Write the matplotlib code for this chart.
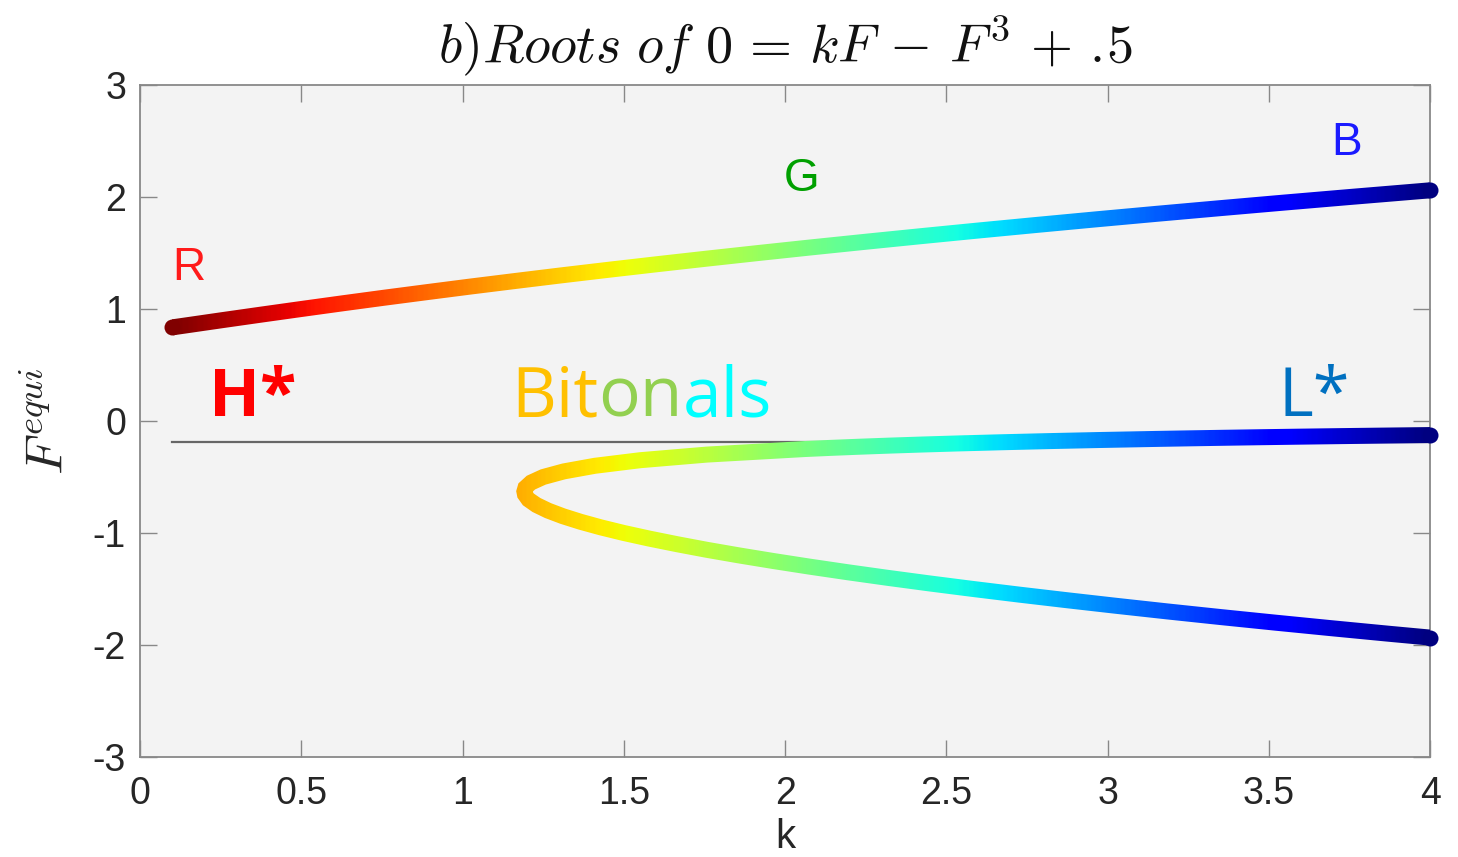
import matplotlib
matplotlib.use("Agg")
import matplotlib.pyplot as plt
import numpy as np
from matplotlib.colors import Normalize
from matplotlib.path import Path

# roots: upper branch
upper_k = [0.10, 0.134, 0.254, 0.376, 0.50, 0.626, 0.755, 0.888, 1.023, 1.163,
           1.305, 1.452, 1.603, 1.758, 1.917, 2.080, 2.248, 2.420, 2.596, 2.777,
           2.962, 3.152, 3.347, 3.546, 3.75, 3.959, 4.00]
upper_F = [0.836, 0.85, 0.90, 0.95, 1.00, 1.05, 1.10, 1.15, 1.20, 1.25,
           1.30, 1.35, 1.40, 1.45, 1.50, 1.55, 1.60, 1.65, 1.70, 1.75,
           1.80, 1.85, 1.90, 1.95, 2.00, 2.05, 2.06]

# lower fold: bottom branch (k=4 -> fold) then middle branch (fold -> k=4)
lower_k = [4.00, 3.873, 3.693, 3.518, 3.348, 3.184, 3.026, 2.873, 2.725, 2.583,
           2.447, 2.317, 2.193, 2.075, 1.963, 1.857, 1.757, 1.665, 1.579, 1.50,
           1.429, 1.366, 1.311, 1.265, 1.229, 1.204, 1.192, 1.191,
           1.193, 1.212, 1.25, 1.314, 1.41, 1.551, 1.757, 2.063, 2.141, 2.227,
           2.321, 2.425, 2.54, 2.668, 2.81, 2.97, 3.151, 3.25, 3.356, 3.469,
           3.591, 3.722, 3.863, 4.00]
lower_F = [-1.934, -1.90, -1.85, -1.80, -1.75, -1.70, -1.65, -1.60, -1.55, -1.50,
           -1.45, -1.40, -1.35, -1.30, -1.25, -1.20, -1.15, -1.10, -1.05, -1.00,
           -0.95, -0.90, -0.85, -0.80, -0.75, -0.70, -0.65, -0.63,
           -0.60, -0.55, -0.50, -0.45, -0.40, -0.35, -0.30, -0.25, -0.24, -0.23,
           -0.22, -0.21, -0.20, -0.19, -0.18, -0.17, -0.16, -0.155, -0.15, -0.145,
           -0.14, -0.135, -0.13, -0.1255]

ref_k = [0.1, 4.0]
ref_F = -0.19

xticks = [0, 0.5, 1, 1.5, 2, 2.5, 3, 3.5, 4]
xticklabels = ['0', '0.5', '1', '1.5', '2', '2.5', '3', '3.5', '4']
yticks = [-3, -2, -1, 0, 1, 2, 3]

plt.rcParams['mathtext.fontset'] = 'cm'
plt.rcParams['axes.unicode_minus'] = False
plt.rcParams['font.family'] = ['Liberation Sans', 'DejaVu Sans']

fig = plt.figure(figsize=(14.58, 8.57), dpi=100)
fig.patch.set_facecolor('white')
ax = fig.add_axes([0.096, 0.1167, 0.885, 0.7841])
ax.set_facecolor('#f3f3f3')
ax.set_xlim(0, 4)
ax.set_ylim(-3, 3)

norm = Normalize(0.1, 4.0)
cmap = plt.get_cmap('jet_r')
LW = 16  # stroke width in pixels


def stroke_outline(ks, fs, width):
    # polygon around the curve, offset by half the width in screen space
    pts = ax.transData.transform(np.column_stack([ks, fs]))
    d = np.gradient(pts, axis=0)
    d /= np.linalg.norm(d, axis=1)[:, None]
    nrm = np.column_stack([-d[:, 1], d[:, 0]]) * width / 2
    poly = np.vstack([pts + nrm, (pts - nrm)[::-1], (pts + nrm)[:1]])
    poly = ax.transData.inverted().transform(poly)
    codes = [Path.MOVETO] + [Path.LINETO] * (len(poly) - 2) + [Path.CLOSEPOLY]
    return Path(poly, codes)


def gradient_line(ks, fs):
    grad = np.linspace(0.1, 4.0, 600)[None, :]
    im = ax.imshow(grad, cmap=cmap, norm=norm, extent=[0.1, 4.0, -3, 3],
                   aspect='auto', origin='lower', zorder=3, interpolation='bilinear')
    im.set_clip_path(stroke_outline(ks, fs, LW), ax.transData)
    # round end caps
    for i in (0, -1):
        ax.plot(ks[i], fs[i], 'o', ms=LW * 0.72, mew=0,
                color=cmap(norm(ks[i])), zorder=3, clip_on=False)


ax.plot(ref_k, [ref_F, ref_F], color='#666666', lw=1.6, zorder=2)
gradient_line(upper_k, upper_F)
gradient_line(lower_k, lower_F)

ax.set_xlim(0, 4)
ax.set_ylim(-3, 3)
ax.set_xticks(xticks)
ax.set_xticklabels(xticklabels)
ax.set_yticks(yticks)
ax.tick_params(direction='in', length=12, width=1, color='#888888',
               labelsize=27, labelcolor='#262626', top=True, right=True)
ax.tick_params(axis='x', pad=14)
ax.tick_params(axis='y', pad=10)
for s in ax.spines.values():
    s.set_color('#888888')
    s.set_linewidth(1.3)

ax.set_title(r'$b)Roots\ of\ 0\,=\,kF\,-\,F^3\,+\,.\!5$', fontsize=39, pad=16,
             color='#111111')
ax.set_xlabel('k', fontsize=29, color='#262626', labelpad=4)
ax.set_ylabel(r'$F^{equi}$', fontsize=38, color='#262626', labelpad=14)

# branch labels
ax.text(0.15, 1.37, 'R', color='#ff1a1a', fontsize=33, ha='center', va='center')
ax.text(2.05, 2.16, 'G', color='#00a000', fontsize=33, ha='center', va='center')
ax.text(3.74, 2.48, 'B', color='#1a1aff', fontsize=33, ha='center', va='center')

ax.text(0.35, 0.2, 'H*', color='#ff0000', fontsize=48, fontweight='bold',
        family='Open Sans', ha='center', va='center')
ax.text(3.64, 0.2, 'L*', color='#0070c0', fontsize=48,
        family='Open Sans', ha='center', va='center')

t1 = ax.text(1.15, 0.2, 'Bit', color='#ffc000', fontsize=50,
             family='Open Sans', ha='left', va='center')
t2 = ax.annotate('on', xy=(1, 0), xycoords=t1, color='#92d050', fontsize=50,
                 family='Open Sans', ha='left', va='bottom')
ax.annotate('als', xy=(1, 0), xycoords=t2, color='#00ffff', fontsize=50,
            family='Open Sans', ha='left', va='bottom')

fig.savefig('out.png', dpi=100, facecolor='white')
